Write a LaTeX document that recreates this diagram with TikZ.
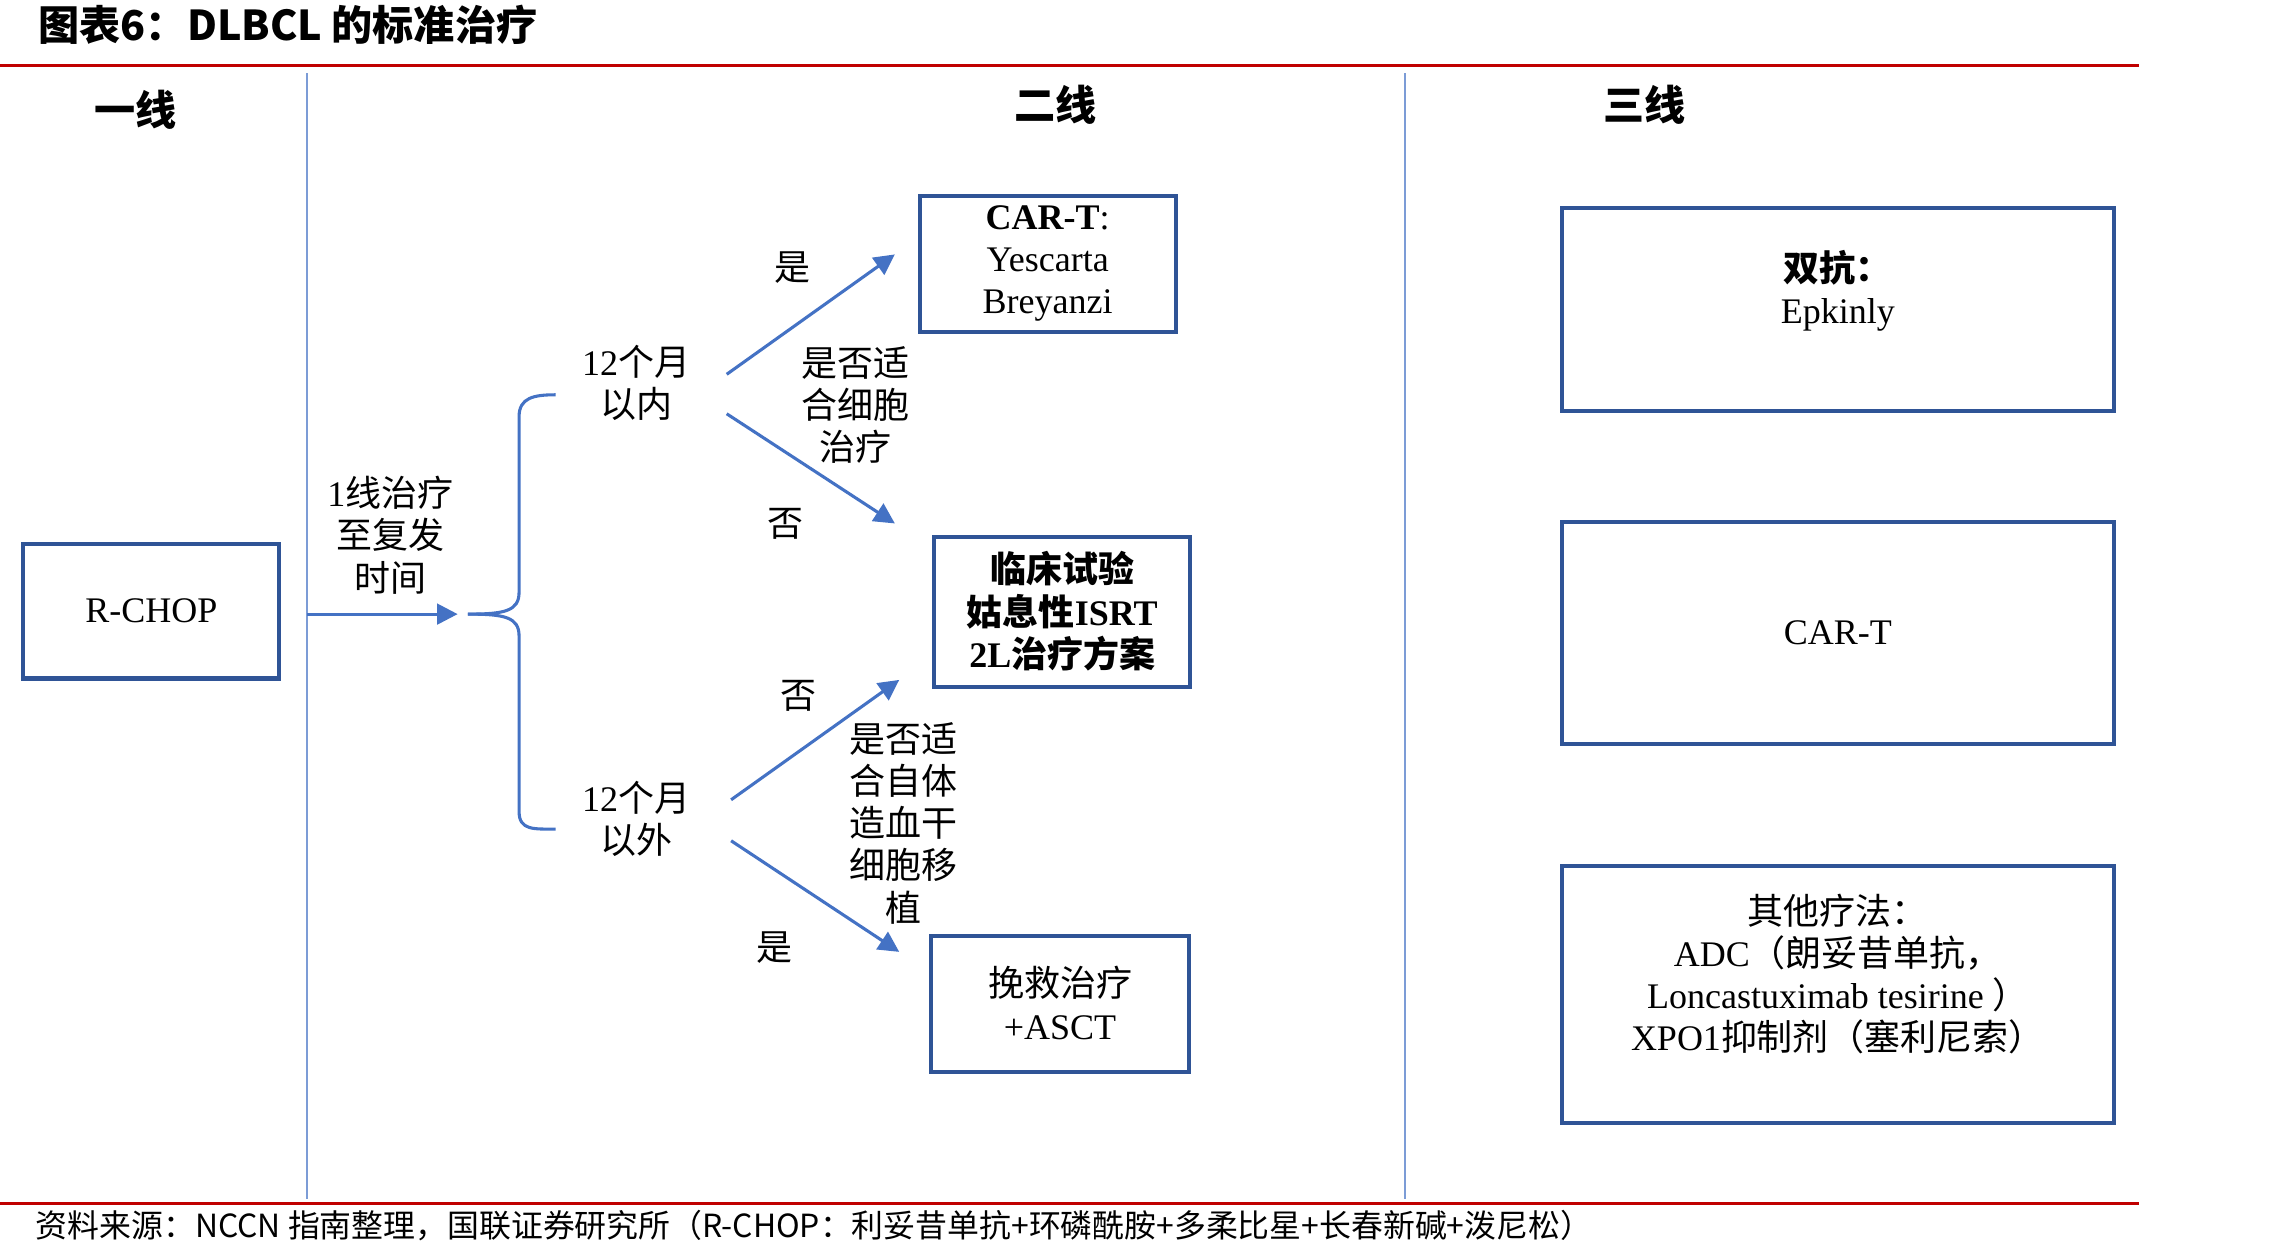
\documentclass[tikz,border=0pt]{standalone}
\usepackage{fontspec}
\setmainfont{Liberation Serif}
\newfontfamily\cjk{Noto Sans CJK SC}
\usetikzlibrary{arrows.meta, positioning}
\definecolor{boxblue}{RGB}{47,84,150}
\definecolor{arrblue}{RGB}{68,114,196}
\definecolor{titlered}{RGB}{192,0,0}
\begin{document}
\begin{tikzpicture}[x=0.01cm, y=-0.01cm,
  every node/.style={font=\fontsize{7}{8.2}\selectfont, align=center},
  box/.style={draw=boxblue, line width=0.8pt},
  flow/.style={arrblue, line width=0.6pt, -{Triangle[length=4pt,width=4pt]}},
  brace/.style={arrblue, line width=0.6pt},
  divider/.style={arrblue!70, line width=0.5pt}]
  \useasboundingbox (0,0) rectangle (1560,855);
  % title and rules
  \node[anchor=west, font=\fontsize{8}{9}\bfseries\cjk] (title) at (14,17) {图表6：DLBCL 的标准治疗};
  \draw[titlered, line width=0.6pt] (0,45) -- (1463,45);
  \draw[titlered, line width=0.6pt] (0,823) -- (1463,823);
  \node[anchor=west, font=\fontsize{6.2}{7}\cjk] (source) at (12,838) {资料来源：NCCN 指南整理，国联证券研究所（R-CHOP：利妥昔单抗+环磷酰胺+多柔比星+长春新碱+泼尼松）};
  \draw[divider] (210,50) -- (210,820);
  \draw[divider] (961,50) -- (961,820);
  % column heads
  \node[font=\fontsize{8}{9}\bfseries\cjk] (h1) at (93,75) {一线};
  \node[font=\fontsize{8}{9}\bfseries\cjk] (h2) at (722,72) {二线};
  \node[font=\fontsize{8}{9}\bfseries\cjk] (h3) at (1125,72) {三线};
  % first line
  \draw[box] (16,372) rectangle (191,464);
  \node (rchop) at (103.5,418) {R-CHOP};
  \coordinate (a0) at (210,420);
  \coordinate (a1) at (313,420);
  \draw[flow] (a0) -- (a1);
  \node (time) at (267,366) {1{\cjk 线治疗}\\{\cjk 至复发}\\{\cjk 时间}};
  % brace
  \draw[brace] (320,420) .. controls (345,420) and (355,418) .. (355,405) -- (355,285) .. controls (355,272) and (365,270) .. (380,270);
  \draw[brace] (320,420) .. controls (345,420) and (355,422) .. (355,435) -- (355,555) .. controls (355,568) and (365,567) .. (380,567);
  \node (in12) at (435,262) {12{\cjk 个月}\\{\cjk 以内}};
  \node (out12) at (435,560) {12{\cjk 个月}\\{\cjk 以外}};
  % second line boxes
  \draw[box] (629,134) rectangle (804,227);
  \node (cart) at (716.5,180) {\textbf{CAR-T}:\\Yescarta\\Breyanzi};
  \draw[box] (639,367) rectangle (814,470);
  \node[font=\fontsize{7}{8.2}\bfseries] (trial) at (726.5,418) {{\cjk 临床试验}\\{\cjk 姑息性}ISRT\\2L{\cjk 治疗方案}};
  \draw[box] (637,640) rectangle (813,733);
  \node (salv) at (725,686) {{\cjk 挽救治疗}\\+ASCT};
  % arrows
  \coordinate (p1) at (497,256); \coordinate (q1) at (612,174);
  \coordinate (p2) at (497,283); \coordinate (q2) at (612,358);
  \coordinate (p3) at (500,547); \coordinate (q3) at (615,465);
  \coordinate (p4) at (500,575); \coordinate (q4) at (615,651);
  \draw[flow] (p1) -- (q1);
  \draw[flow] (p2) -- (q2);
  \draw[flow] (p3) -- (q3);
  \draw[flow] (p4) -- (q4);
  \node[font=\fontsize{7}{8.2}\cjk] (yes1) at (542,183) {是};
  \node[font=\fontsize{7}{8.2}\cjk] (no1) at (537,358) {否};
  \node[font=\fontsize{7}{8.2}\cjk] (q1txt) at (585,277) {是否适\\合细胞\\治疗};
  \node[font=\fontsize{7}{8.2}\cjk] (no2) at (546,476) {否};
  \node[font=\fontsize{7}{8.2}\cjk] (q2txt) at (618,563) {是否适\\合自体\\造血干\\细胞移\\植};
  \node[font=\fontsize{7}{8.2}\cjk] (yes2) at (530,648) {是};
  % third line
  \draw[box] (1068,142) rectangle (1446,281);
  \node (bisp) at (1257,199) {\textbf{\cjk 双抗：}\\Epkinly};
  \draw[box] (1068,357) rectangle (1446,509);
  \node (cart3) at (1257,433) {CAR-T};
  \draw[box] (1068,592) rectangle (1446,768);
  \node (other) at (1257,666) {{\cjk 其他疗法：}\\ADC{\cjk （朗妥昔单抗，}\\Loncastuximab tesirine {\cjk ）}\\XPO1{\cjk 抑制剂（塞利尼索）}};
\end{tikzpicture}
\end{document}
